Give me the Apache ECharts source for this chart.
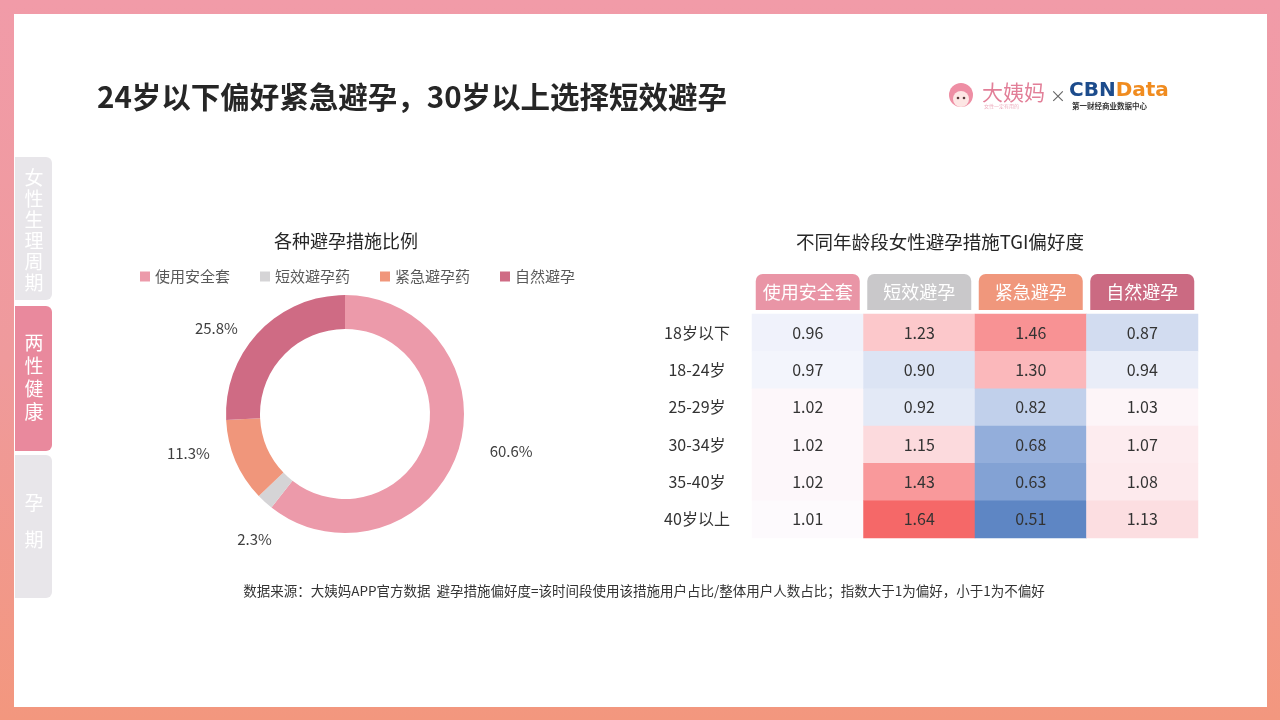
<!DOCTYPE html>
<html>
<head>
<meta charset="utf-8">
<script src="https://cdn.jsdelivr.net/npm/echarts@6/dist/echarts.min.js"></script>
<style>
  html, body { margin: 0; padding: 0; }
  body { width: 1280px; height: 720px; background: linear-gradient(180deg, #f19ba8 0%, #ef9a9c 50%, #f3977e 100%); }
  #chart { width: 1280px; height: 720px; }
</style>
</head>
<body>
<div id="chart"></div>
<script>
// 各种避孕措施比例
const pieNames = ['使用安全套', '短效避孕药', '紧急避孕药', '自然避孕'];
const pieValues = [60.6, 2.3, 11.3, 25.8];

// TGI 偏好度
const methods = ['使用安全套', '短效避孕', '紧急避孕', '自然避孕'];
const ageGroups = ['18岁以下', '18-24岁', '25-29岁', '30-34岁', '35-40岁', '40岁以上'];
const tgiCondom = [0.96, 0.97, 1.02, 1.02, 1.02, 1.01];
const tgiShort = [1.23, 0.90, 0.92, 1.15, 1.43, 1.64];
const tgiEmergency = [1.46, 1.30, 0.82, 0.68, 0.63, 0.51];
const tgiNatural = [0.87, 0.94, 1.03, 1.07, 1.08, 1.13];

const FONT = '"Noto Sans CJK SC", "Microsoft YaHei", sans-serif';
const pieColors = ['#ec9aaa', '#d5d4d6', '#f0967b', '#cf6b84'];
// 饼图标签微调偏移
const pieLabelShift = [[3, -7], [32, 26], [3, -14], [5, 7]];
const headColors = ['#e995a6', '#c9c8ca', '#f0977c', '#cb6a82'];

const tgiColumns = [tgiCondom, tgiShort, tgiEmergency, tgiNatural];
const heatData = [];
tgiColumns.forEach((col, x) => {
  col.forEach((v, y) => heatData.push([x, y, v]));
});

const headRich = {};
headColors.forEach((c, i) => {
  headRich['h' + i] = {
    backgroundColor: c,
    color: '#fff',
    fontSize: 18,
    fontFamily: FONT,
    width: 104,
    height: 36,
    lineHeight: 36,
    align: 'center',
    borderRadius: [7, 7, 0, 0]
  };
});

const chart = echarts.init(document.getElementById('chart'));

// 侧边栏标签
const tab = (y, h, fill, text, lh, ty) => ([
  {
    type: 'rect',
    shape: { x: 15, y: y, width: 37, height: h, r: [0, 6, 6, 0] },
    style: { fill: fill },
    z: 1
  },
  {
    type: 'text',
    style: {
      x: 34, y: ty, text: text, fill: '#ffffff',
      font: '19px ' + FONT, textAlign: 'center', textVerticalAlign: 'middle',
      lineHeight: lh
    },
    z: 2
  }
]);

const option = {
  textStyle: { fontFamily: FONT },
  animation: false,
  graphic: [
    {
      type: 'rect',
      shape: { x: 14, y: 14, width: 1253, height: 693 },
      style: { fill: '#ffffff' },
      z: 0
    },
    ...tab(157, 143, '#e8e6ea', '女\n性\n生\n理\n周\n期', 21, 230),
    ...tab(306, 145, '#e9899d', '两\n性\n健\n康', 23, 377),
    ...tab(455, 143, '#e8e6ea', '孕\n期', 37, 521),
    {
      type: 'text',
      style: {
        x: 97, y: 97, text: '24岁以下偏好紧急避孕，30岁以上选择短效避孕',
        font: 'bold 29.5px ' + FONT, fill: '#262626', textVerticalAlign: 'middle'
      }
    },
    // logo
    { type: 'circle', shape: { cx: 961, cy: 95, r: 12 }, style: { fill: '#ee8ea4' } },
    { type: 'circle', shape: { cx: 961, cy: 99, r: 8 }, style: { fill: '#fde6e4' } },
    { type: 'circle', shape: { cx: 958, cy: 98, r: 1.3 }, style: { fill: '#5a3b3b' } },
    { type: 'circle', shape: { cx: 964, cy: 98, r: 1.3 }, style: { fill: '#5a3b3b' } },
    {
      type: 'text',
      style: { x: 982, y: 92, text: '大姨妈', font: '21px ' + FONT, fill: '#e27f98', textVerticalAlign: 'middle' }
    },
    {
      type: 'text',
      style: { x: 984, y: 106, text: '女性一定有用的', font: '5px ' + FONT, fill: '#eeb0c0', textVerticalAlign: 'middle' }
    },
    {
      type: 'text',
      style: { x: 1058, y: 96, text: '×', font: '16px ' + FONT, fill: '#666', textAlign: 'center', textVerticalAlign: 'middle' }
    },
    {
      type: 'text',
      style: {
        x: 1069, y: 91, text: '{a|CBN}{b|Data}', textVerticalAlign: 'middle',
        rich: {
          a: { font: 'bold 20px "DejaVu Sans", sans-serif', fill: '#1d4c8c', color: '#1d4c8c' },
          b: { font: 'bold 20px "DejaVu Sans", sans-serif', fill: '#f08c20', color: '#f08c20' }
        }
      }
    },
    {
      type: 'text',
      style: { x: 1072, y: 106, text: '第一财经商业数据中心', font: 'bold 7.5px ' + FONT, fill: '#333', textVerticalAlign: 'middle' }
    },
    // 图表标题
    {
      type: 'text',
      style: { x: 346, y: 241, text: '各种避孕措施比例', font: '18px ' + FONT, fill: '#262626', textAlign: 'center', textVerticalAlign: 'middle' }
    },
    {
      type: 'text',
      style: { x: 940, y: 242, text: '不同年龄段女性避孕措施TGI偏好度', font: '18.5px ' + FONT, fill: '#262626', textAlign: 'center', textVerticalAlign: 'middle' }
    },
    {
      type: 'text',
      style: {
        x: 644, y: 591,
        text: '数据来源：大姨妈APP官方数据  避孕措施偏好度=该时间段使用该措施用户占比/整体用户人数占比；指数大于1为偏好，小于1为不偏好',
        font: '13.5px ' + FONT, fill: '#333', textAlign: 'center', textVerticalAlign: 'middle'
      }
    }
  ],
  legend: {
    data: pieNames,
    left: 135,
    top: 264,
    icon: 'rect',
    itemWidth: 10,
    itemHeight: 10,
    itemGap: 30,
    textStyle: { fontSize: 15, color: '#595959', fontFamily: FONT },
    selectedMode: false
  },
  grid: { left: 752, top: 314, width: 446, height: 224 },
  xAxis: {
    type: 'category',
    data: methods,
    position: 'top',
    axisLine: { show: false },
    axisTick: { show: false },
    splitLine: { show: false },
    axisLabel: {
      margin: 4,
      interval: 0,
      formatter: (v, i) => '{h' + i + '|' + v + '}',
      rich: headRich
    }
  },
  yAxis: {
    type: 'category',
    data: ageGroups,
    inverse: true,
    axisLine: { show: false },
    axisTick: { show: false },
    splitLine: { show: false },
    axisLabel: { margin: 55, align: 'center', fontSize: 16, color: '#333', fontFamily: FONT }
  },
  visualMap: {
    show: false,
    type: 'continuous',
    dimension: 2,
    seriesIndex: 1,
    min: 0.36,
    max: 1.64,
    inRange: { color: ['#2f63b0', '#93aedb', '#fdfcff', '#fbb3b6', '#f56868'] }
  },
  series: [
    {
      type: 'pie',
      name: '各种避孕措施比例',
      center: [345, 414],
      radius: [85, 119],
      startAngle: 90,
      clockwise: true,
      silent: true,
      avoidLabelOverlap: false,
      label: {
        formatter: '{c}%',
        fontSize: 15,
        color: '#404040',
        fontFamily: FONT
      },
      labelLine: { show: false, length: 15, length2: 10 },
      labelLayout: p => ({ dx: pieLabelShift[p.dataIndex][0], dy: pieLabelShift[p.dataIndex][1] }),
      data: pieNames.map((n, i) => ({ name: n, value: pieValues[i], itemStyle: { color: pieColors[i] } }))
    },
    {
      type: 'heatmap',
      name: 'TGI',
      data: heatData,
      silent: true,
      label: {
        show: true,
        formatter: p => p.value[2].toFixed(2),
        fontSize: 16,
        color: '#333',
        fontFamily: FONT
      },
      itemStyle: { borderWidth: 0 }
    }
  ]
};

chart.setOption(option);
</script>
</body>
</html>
